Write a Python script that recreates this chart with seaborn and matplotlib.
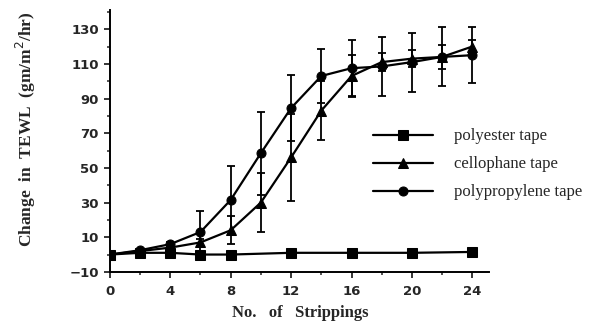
import matplotlib
matplotlib.use("Agg")
import matplotlib.pyplot as plt
import seaborn as sns
import pandas as pd
from matplotlib.ticker import MultipleLocator

# datos
x_poliester = [0, 2, 4, 6, 8, 12, 16, 20, 24]
y_poliester = [0, 1, 1, 0, 0, 1, 1, 1, 1.5]

x_tape = [0, 2, 4, 6, 8, 10, 12, 14, 16, 18, 20, 22, 24]
y_celofan = [0, 2, 4, 7, 14, 30, 56, 83, 103, 111, 113, 114, 120]
err_celofan = [0, 0, 1, 2, 8, 17, 25, 17, 12, 5, 5, 7, 4]
y_polipropileno = [0, 2.5, 6, 13, 31.5, 58.5, 84.5, 103, 107.5, 108.5, 111, 114, 115]
err_polipropileno = [0, 0, 1, 12, 19.5, 24, 19, 15.5, 16, 17, 17, 17, 16]

etiquetas = ["polyester tape", "cellophane tape", "polypropylene tape"]

df = pd.concat([
    pd.DataFrame({"x": x_poliester, "y": y_poliester, "cinta": etiquetas[0]}),
    pd.DataFrame({"x": x_tape, "y": y_celofan, "cinta": etiquetas[1]}),
    pd.DataFrame({"x": x_tape, "y": y_polipropileno, "cinta": etiquetas[2]}),
])

sns.set_style("ticks")
plt.rcParams["font.family"] = ["DejaVu Sans"]

fig = plt.figure(figsize=(5.97, 3.26), dpi=100)
ax = fig.add_axes([0.184, 0.166, 0.635, 0.803])

# barras de error
ax.errorbar(x_tape, y_celofan, yerr=err_celofan, fmt="none", ecolor="black",
            elinewidth=1.3, capsize=3, capthick=1.3, zorder=2)
ax.errorbar(x_tape, y_polipropileno, yerr=err_polipropileno, fmt="none", ecolor="black",
            elinewidth=1.3, capsize=3, capthick=1.3, zorder=2)

sns.lineplot(data=df, x="x", y="y", hue="cinta", style="cinta",
             palette=["black"] * 3, markers=["s", "^", "o"], dashes=False,
             markersize=6.5, linewidth=1.6, markeredgecolor="black",
             legend=True, ax=ax, zorder=3)

ax.set_xlim(0, 25.1)
ax.set_ylim(-10, 141)
ax.xaxis.set_major_locator(MultipleLocator(4))
ax.xaxis.set_minor_locator(MultipleLocator(2))
ax.set_yticks([-10, 10, 30, 50, 70, 90, 110, 130])
ax.yaxis.set_minor_locator(MultipleLocator(10))
ax.tick_params(which="major", length=4.5, width=1.3, labelsize=9.5)
ax.tick_params(axis="x", which="major", pad=5)
ax.tick_params(which="minor", length=2.5, width=1.1)
for lab in ax.get_xticklabels() + ax.get_yticklabels():
    lab.set_fontweight("bold")
sns.despine(ax=ax)
for s in ["left", "bottom"]:
    ax.spines[s].set_linewidth(1.4)
    ax.spines[s].set_color("black")

ax.set_xlabel("No.   of   Strippings", fontfamily=["Liberation Serif"],
              fontweight="bold", fontsize=12)
ax.set_ylabel("Change  in  TEWL  (gm/m$^2$/hr)", fontfamily=["Liberation Serif"],
              fontweight="bold", fontsize=12.5)
ax.xaxis.set_label_coords(0.501, -0.128)
ax.yaxis.set_label_coords(-0.19, 0.546)

handles, labels = ax.get_legend_handles_labels()
ax.legend(handles, labels, loc="upper left", bbox_to_anchor=(0.625, 0.606),
          bbox_transform=fig.transFigure, frameon=False, borderpad=0,
          borderaxespad=0, handlelength=3.6, handletextpad=1.25,
          labelspacing=0.72, prop={"family": "Liberation Serif", "size": 12})

fig.savefig("out.png", dpi=100)
